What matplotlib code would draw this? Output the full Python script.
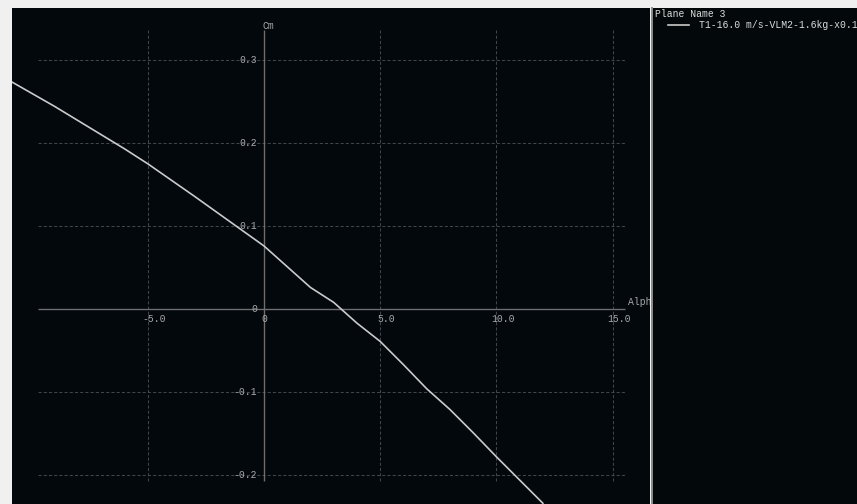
import numpy as np
import matplotlib.pyplot as plt

# Cm vs alpha polar
alpha = [-11, -10, -9, -8, -7, -6, -5, -4, -3, -2, -1, 0, 1, 2, 3,
         4, 5, 6, 7, 8, 9, 10, 11, 12]
cm = [0.276, 0.260, 0.244, 0.227, 0.210, 0.193, 0.175, 0.1555, 0.136, 0.116,
      0.096, 0.076, 0.051, 0.026, 0.008, -0.017, -0.039, -0.067, -0.096,
      -0.121, -0.149, -0.178, -0.206, -0.234]

x_ticks = [-5, 0, 5, 10, 15]
x_labels = ["-5.0", "0", "5.0", "10.0", "15.0"]
y_ticks = [-0.2, -0.1, 0, 0.1, 0.2, 0.3]
y_labels = ["-0.2", "-0.1", "0", "0.1", "0.2", "0.3"]
plane_name = "Plane Name 3"
polar_name = "T1-16.0 m/s-VLM2-1.6kg-x0.1"

# extent of the drawn axes / grid, in data units
x_lo, x_hi = -9.72, 15.53
y_lo, y_hi = -0.207, 0.336

mono = "Liberation Mono"
txt = dict(fontsize=7, family=mono, color="#a8a8a8")

fig = plt.figure(figsize=(8.57, 5.04), dpi=100, facecolor="#f0f0f0")
ax = fig.add_axes([12 / 857, 0, 638 / 857, 496 / 504])
ax.set_facecolor("#03080d")
ax.set_xlim(-10.843, 16.61)
ax.set_ylim(-0.2349, 0.3627)
for s in ax.spines.values():
    s.set_visible(False)
ax.set_xticks([])
ax.set_yticks([])

grid = dict(colors="#40454b", linestyles=(0, (3, 2)), linewidth=0.75)
ax.vlines([t for t in x_ticks if t != 0], y_lo, y_hi, **grid)
ax.hlines([t for t in y_ticks if t != 0], x_lo, x_hi, **grid)
ax.hlines(0, x_lo, x_hi, colors="#6e6e6e", linewidth=1)
ax.vlines(0, y_lo, y_hi, colors="#6e6e6e", linewidth=1)

curve, = ax.plot(alpha, cm, color="#cacaca", linewidth=1.2)

for t, l in zip(x_ticks, x_labels):
    dx = 0 if t == 0 else 4.5
    ax.annotate(l, (t, 0), xytext=(dx, -7.5), textcoords="offset points",
                ha="center", va="center", **txt)
for t, l in zip(y_ticks, y_labels):
    ax.annotate(l, (0, t), xytext=(-5, 0), textcoords="offset points",
                ha="right", va="center", **txt)
ax.annotate("Cm", (0, y_hi), xytext=(3, 3), textcoords="offset points",
            ha="center", va="center", **txt)
ax.annotate("Alpha", (x_hi, 0), xytext=(2, 5), textcoords="offset points",
            ha="left", va="center", clip_on=True, **txt)

# legend panel on the right
ax2 = fig.add_axes([652 / 857, 0, 205 / 857, 496 / 504])
ax2.set_facecolor("#03080a")
for s in ax2.spines.values():
    s.set_visible(False)
ax2.spines["left"].set_visible(True)
ax2.spines["left"].set_color("#8c8c8c")
ax2.spines["left"].set_linewidth(1.4)
ax2.set_xticks([])
ax2.set_yticks([])
ax2.text(3 / 205, 1 - 6 / 496, plane_name, transform=ax2.transAxes,
         ha="left", va="center", fontsize=7, family=mono, color="#dcdcdc")
ax2.legend(handles=[curve], labels=[polar_name], loc="upper left",
           bbox_to_anchor=(16 / 205, 1 - 12 / 496), frameon=False,
           borderpad=0, borderaxespad=0, handlelength=2.2, handletextpad=1.0,
           prop={"family": mono, "size": 7}, labelcolor="#dcdcdc")

fig.savefig("out.png", dpi=100, facecolor=fig.get_facecolor())
